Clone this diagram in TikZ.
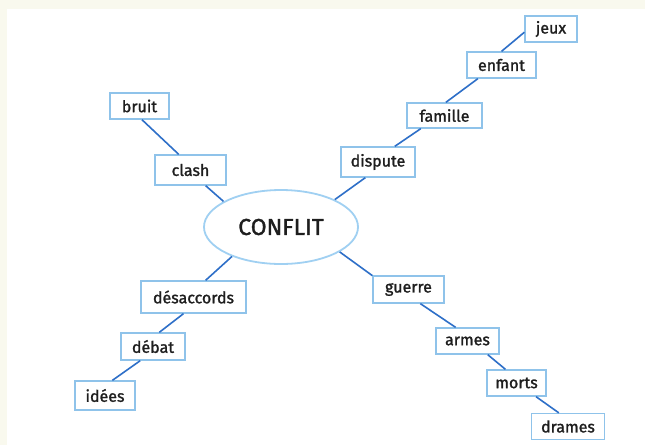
\documentclass[tikz,border=0pt]{standalone}
\usepackage{fontspec}
\setmainfont{Fira Sans}[FakeBold=1.4]
\usetikzlibrary{shapes, positioning}
\definecolor{cCreme}{RGB}{249,249,238}
\definecolor{cBord}{RGB}{143,195,234}
\definecolor{cOvale}{RGB}{160,208,242}
\definecolor{cLien}{RGB}{46,111,200}
\definecolor{cTexte}{RGB}{30,30,30}
\begin{document}
\begin{tikzpicture}[x=1pt, y=-1pt,
            mot/.style={rectangle, draw=cBord, fill=white, line width=1.3pt, minimum height=26pt, inner sep=0pt, text=cTexte, font=\fontsize{16}{18}\selectfont},
            centre/.style={ellipse, draw=cOvale, fill=white, line width=1.8pt, minimum width=154pt, minimum height=74pt, inner sep=0pt, text=cTexte, font=\fontsize{23}{26}\selectfont},
            lien/.style={draw=cLien, line width=1.6pt}]
            \fill[cCreme] (0,0) rectangle (645,445);
            \fill[white] (7,9) rectangle (645,445);
            \useasboundingbox (0,0) rectangle (645,445);
            \node[centre] (C) at (281,227) {CONFLIT};
            % en haut a droite
            \node[mot, minimum width=74pt, minimum height=30pt] (dispute) at (378,162)   {dispute};
            \node[mot, minimum width=75pt, minimum height=25pt] (famille) at (444.5,115.5) {famille};
            \node[mot, minimum width=69pt] (enfant) at (501.5,65)  {enfant};
            \node[mot, minimum width=52pt] (jeux)   at (551,29)    {jeux};
            % en haut a gauche
            \node[mot, minimum width=71pt, minimum height=30pt] (clash) at (190.5,170) {clash};
            \node[mot, minimum width=59pt] (bruit) at (139.5,106) {bruit};
            % en bas a gauche
            \node[mot, minimum width=105pt, minimum height=32pt] (desacc) at (193.5,297) {désaccords};
            \node[mot, minimum width=64pt, minimum height=27pt] (debat) at (153,346.5) {débat};
            \node[mot, minimum width=60pt, minimum height=29pt] (idees) at (105,395.5) {idées};
            % en bas a droite
            \node[mot, minimum width=71pt, minimum height=27pt] (guerre) at (408.5,289.5) {guerre};
            \node[mot, minimum width=63pt] (armes)  at (467.5,341)   {armes};
            \node[mot, minimum width=59pt] (morts)  at (516.5,383)   {morts};
            \node[mot, minimum width=73pt] (drames) at (568,426.5)   {drames};
            \draw[lien] (C.27)        -- (dispute.231);
            \draw[lien] (dispute.43)  -- (famille.209);
            \draw[lien] (famille.84)  -- (enfant.210);
            \draw[lien] (enfant.90)   -- (jeux.187);
            \draw[lien] (C.156)       -- (clash.314);
            \draw[lien] (clash.127)   -- (bruit.280);
            \draw[lien] (C.211)       -- (desacc.54);
            \draw[lien] (desacc.239)  -- (debat.66);
            \draw[lien] (debat.228)   -- (idees.64);
            \draw[lien] (C.337)       -- (guerre.159);
            \draw[lien] (guerre.310)  -- (armes.131);
            \draw[lien] (armes.326)   -- (morts.129);
            \draw[lien] (morts.325)   -- (drames.124);
        \end{tikzpicture}
\end{document}
